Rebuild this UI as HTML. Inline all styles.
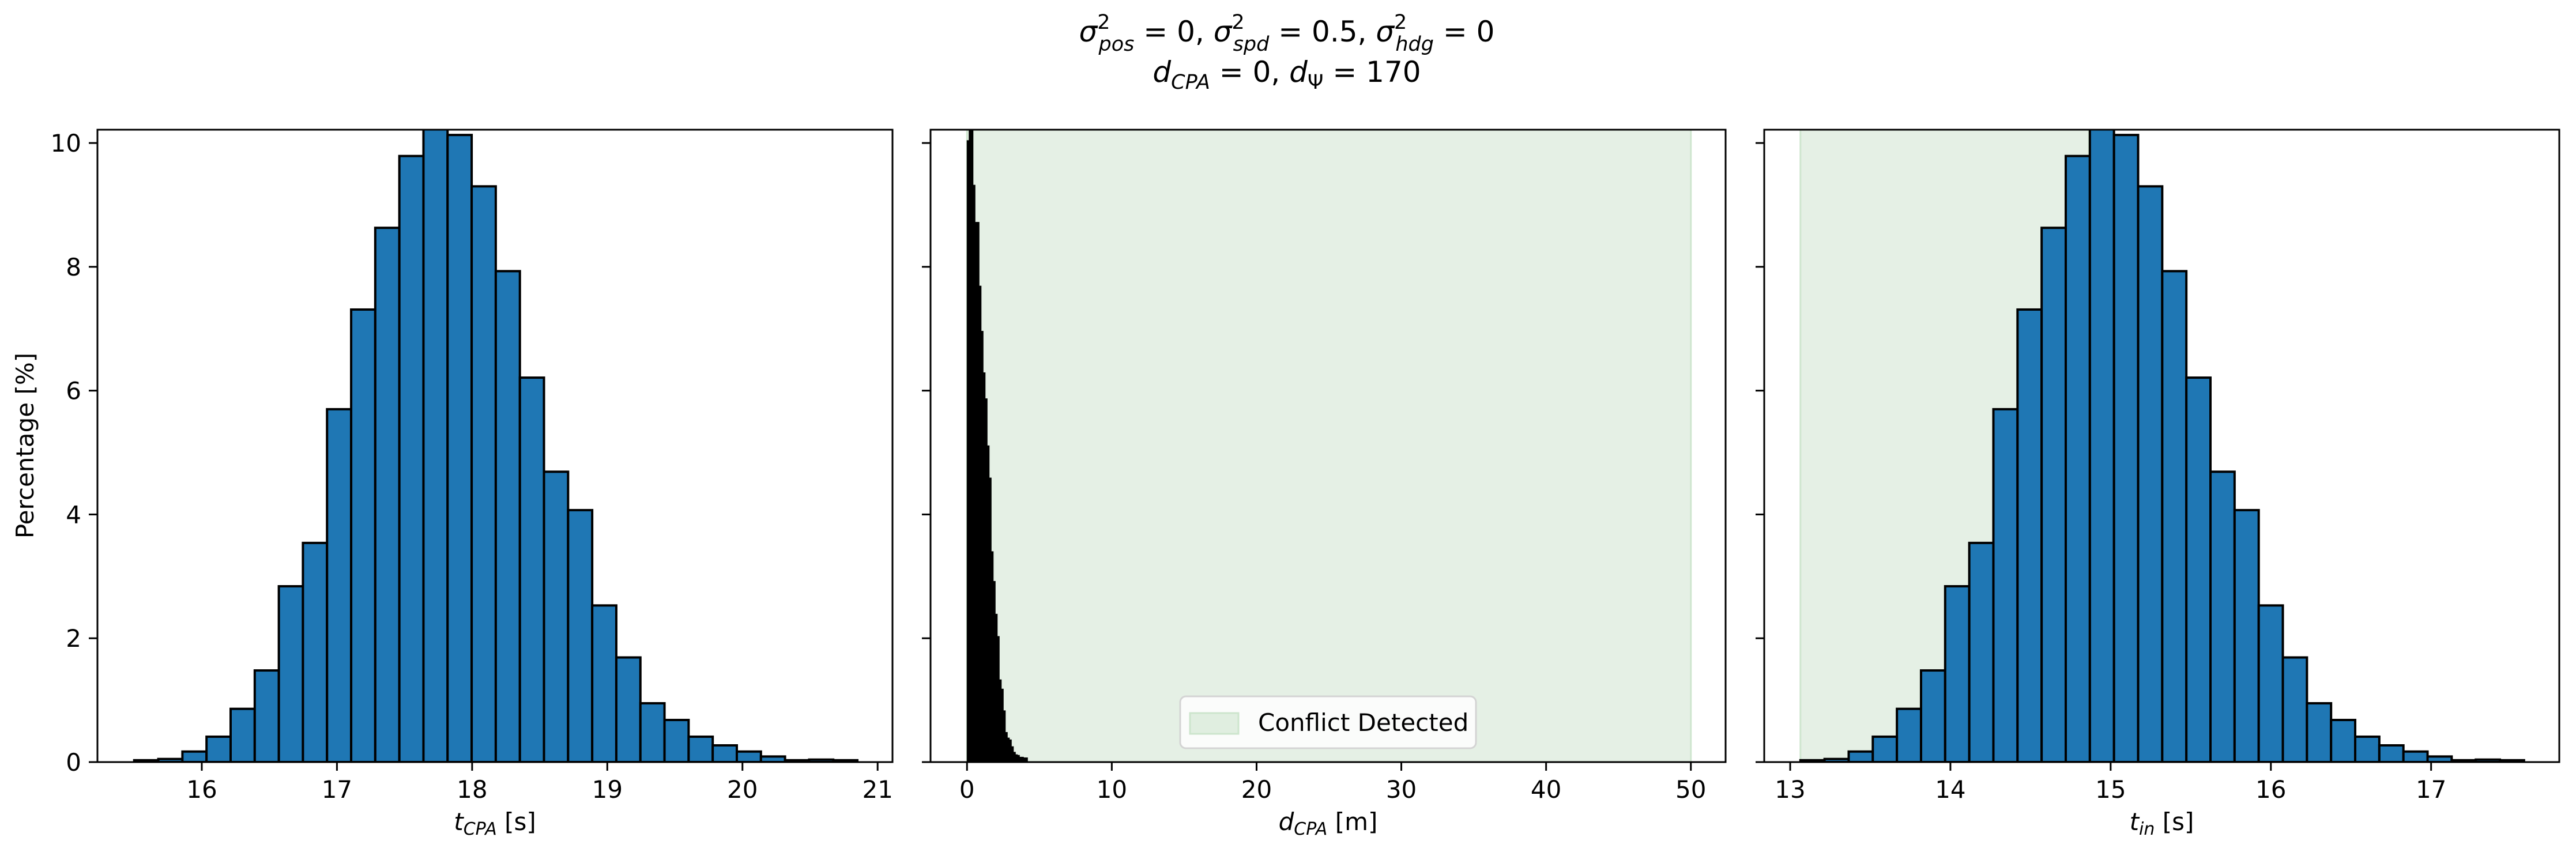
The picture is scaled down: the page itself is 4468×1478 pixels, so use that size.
<!DOCTYPE html>
<html><head><meta charset="utf-8"><style>
html,body{margin:0;padding:0;background:#fff}
svg{display:block;font-family:"DejaVu Sans","Liberation Sans",sans-serif}
</style></head><body>
<svg id="fig" width="4468" height="1478" viewBox="0 0 4468 1478" xmlns="http://www.w3.org/2000/svg">
<text x="2232" y="72" font-size="50" text-anchor="middle"><tspan font-style="italic">σ</tspan><tspan font-size="35" dy="-22">2</tspan><tspan font-size="35" font-style="italic" dx="-20" dy="38">pos</tspan><tspan dy="-16"> = 0, </tspan><tspan font-style="italic">σ</tspan><tspan font-size="35" dy="-22">2</tspan><tspan font-size="35" font-style="italic" dx="-20" dy="38">spd</tspan><tspan dy="-16"> = 0.5, </tspan><tspan font-style="italic">σ</tspan><tspan font-size="35" dy="-22">2</tspan><tspan font-size="35" font-style="italic" dx="-20" dy="38">hdg</tspan><tspan dy="-16"> = 0</tspan></text>
<text x="2232" y="142" font-size="50" text-anchor="middle"><tspan font-style="italic">d</tspan><tspan font-size="35" font-style="italic" dy="12">CPA</tspan><tspan dy="-12"> = 0, </tspan><tspan font-style="italic">d</tspan><tspan font-size="35" dy="12">Ψ</tspan><tspan dy="-12"> = 170</tspan></text>
</svg>
<script>
// ---- data ----
const tcpaHeights = [0.03,0.05,0.17,0.41,0.86,1.48,2.84,3.54,5.70,7.31,8.63,9.79,10.25,10.13,9.30,7.93,6.21,4.69,4.07,2.53,1.69,0.95,0.68,0.41,0.27,0.17,0.09,0.03,0.04,0.03];
const tcpaRange = [15.50, 20.85];
const tinHeights = [0.03,0.05,0.17,0.41,0.86,1.48,2.84,3.54,5.70,7.31,8.63,9.79,10.25,10.13,9.30,7.93,6.21,4.69,4.07,2.53,1.69,0.95,0.68,0.41,0.27,0.17,0.09,0.03,0.04,0.03];
const tinRange = [13.064, 17.58];
const dcpaHeights = [10.04,10.6,10.6,9.32,8.72,8.72,7.69,6.96,6.29,5.87,5.11,4.59,3.40,2.92,2.39,2.03,1.33,1.18,0.83,0.48,0.39,0.36,0.25,0.16,0.12,0.11,0.08,0.08,0.07,0.07];
const dcpaBinStart = 0;
const dcpaBinWidth = 0.1394;
const tcpaTicks = [16,17,18,19,20,21];
const dcpaTicks = [0,10,20,30,40,50];
const tinTicks = [13,14,15,16,17];
const yTicks = [0,2,4,6,8,10];
const dcpaSpan = [0, 50];
const tinSpan = [13.064, 14.865];
const yMax = 10.215;

const NS = "http://www.w3.org/2000/svg";
const svgEl = document.getElementById('fig');
function mk(tag, attrs, parent){const e=document.createElementNS(NS,tag);for(const k in attrs)e.setAttribute(k,attrs[k]);(parent||svgEl).appendChild(e);return e;}
const yTop=225, yBot=1322;
function yS(v){return yBot-(v/yMax)*(yBot-yTop);}

function panel(name, x0, x1, xlim, ticks, showYLabels){
  const g=mk('g',{});
  
  
  const xS=v=>x0+(v-xlim[0])/(xlim[1]-xlim[0])*(x1-x0);
  const clipId='clip-'+name;
  const cp=mk('clipPath',{id:clipId},g);
  mk('rect',{x:x0,y:yTop,width:x1-x0,height:yBot-yTop},cp);
  const plot=mk('g',{'clip-path':'url(#'+clipId+')'},g);
  yTicks.forEach(t=>{
    const tk=mk('line',{x1:x0-15,x2:x0,y1:yS(t),y2:yS(t),stroke:'#000','stroke-width':3},g);
    
    
    if(showYLabels){
      const tl=mk('text',{x:x0-28,y:yS(t)+15,'font-size':42,'text-anchor':'end'},g);
      tl.textContent=t;
      
      
    }
  });
  ticks.forEach(t=>{
    const tk=mk('line',{x1:xS(t),x2:xS(t),y1:yBot,y2:yBot+15,stroke:'#000','stroke-width':3},g);
    
    
    const tl=mk('text',{x:xS(t),y:yBot+62,'font-size':42,'text-anchor':'middle'},g);
    tl.textContent=t;
    
    
  });
  return {g,plot,xS};
}
function spine(g,x0,x1){
  const r=mk('rect',{x:x0,y:yTop,width:x1-x0,height:yBot-yTop,fill:'none',stroke:'#000','stroke-width':3},g);
  
  
}
function hist(plot,xS,heights,start,w,fill,name){
  heights.forEach((h,i)=>{
    const a=xS(start+i*w), b=xS(start+(i+1)*w);
    const r=mk('rect',{x:a,y:yS(h),width:b-a,height:yBot-yS(h),fill:fill,stroke:'#000','stroke-width':fill==='#000'?1:4},plot);
    
    
  });
}

// Left panel
{
  const x0=169,x1=1548;
  const p=panel('tcpa-histogram-panel',x0,x1,[15.228,21.11],tcpaTicks,true);
  const w=(tcpaRange[1]-tcpaRange[0])/tcpaHeights.length;
  hist(p.plot,p.xS,tcpaHeights,tcpaRange[0],w,'#1f77b4','tcpa-bar');
  spine(p.g,x0,x1);
  const xl=mk('text',{x:(x0+x1)/2,y:1440,'font-size':42,'text-anchor':'middle'},p.g);
  xl.innerHTML='<tspan font-style="italic">t</tspan><tspan font-style="italic" font-size="30" dy="8">CPA</tspan><tspan dy="-8"> [s]</tspan>';
  
  
  const yl=mk('text',{x:0,y:0,'font-size':42,'text-anchor':'middle',transform:'translate(58,773) rotate(-90)'},p.g);
  yl.textContent='Percentage [%]';
  
  
}
// Middle panel
{
  const x0=1614,x1=2993;
  const p=panel('dcpa-histogram-panel',x0,x1,[-2.52,52.4],dcpaTicks,false);
  const sp=mk('rect',{x:p.xS(dcpaSpan[0]),y:yTop,width:p.xS(dcpaSpan[1])-p.xS(dcpaSpan[0]),height:yBot-yTop,fill:'#e5f0e5',stroke:'#cfe6cf','stroke-width':3},p.plot);
  
  
  hist(p.plot,p.xS,dcpaHeights,dcpaBinStart,dcpaBinWidth,'#000','dcpa-bar');
  spine(p.g,x0,x1);
  const xl=mk('text',{x:(x0+x1)/2,y:1440,'font-size':42,'text-anchor':'middle'},p.g);
  xl.innerHTML='<tspan font-style="italic">d</tspan><tspan font-style="italic" font-size="30" dy="8">CPA</tspan><tspan dy="-8"> [m]</tspan>';
  
  
  const lg=mk('g',{},p.g);
  
  
  mk('rect',{x:2047,y:1208,width:513,height:90,rx:10,fill:'#fbfcfb',stroke:'#d4d4d4','stroke-width':3},lg);
  const pt=mk('rect',{x:2064,y:1237,width:84,height:36,fill:'#e0eee0',stroke:'#cde5cd','stroke-width':3},lg);
  
  
  const lt=mk('text',{x:2182,y:1268,'font-size':42},lg);
  lt.textContent='Conflict Detected';
  
  
}
// Right panel
{
  const x0=3060,x1=4439;
  const p=panel('tin-histogram-panel',x0,x1,[12.838,17.80],tinTicks,false);
  const sp=mk('rect',{x:p.xS(tinSpan[0]),y:yTop,width:p.xS(tinSpan[1])-p.xS(tinSpan[0]),height:yBot-yTop,fill:'#e5f0e5',stroke:'#cfe6cf','stroke-width':3},p.plot);
  
  
  const w=(tinRange[1]-tinRange[0])/tinHeights.length;
  hist(p.plot,p.xS,tinHeights,tinRange[0],w,'#1f77b4','tin-bar');
  spine(p.g,x0,x1);
  const xl=mk('text',{x:(x0+x1)/2,y:1440,'font-size':42,'text-anchor':'middle'},p.g);
  xl.innerHTML='<tspan font-style="italic">t</tspan><tspan font-style="italic" font-size="30" dy="8">in</tspan><tspan dy="-8"> [s]</tspan>';
  
  
}
</script>
</body></html>
